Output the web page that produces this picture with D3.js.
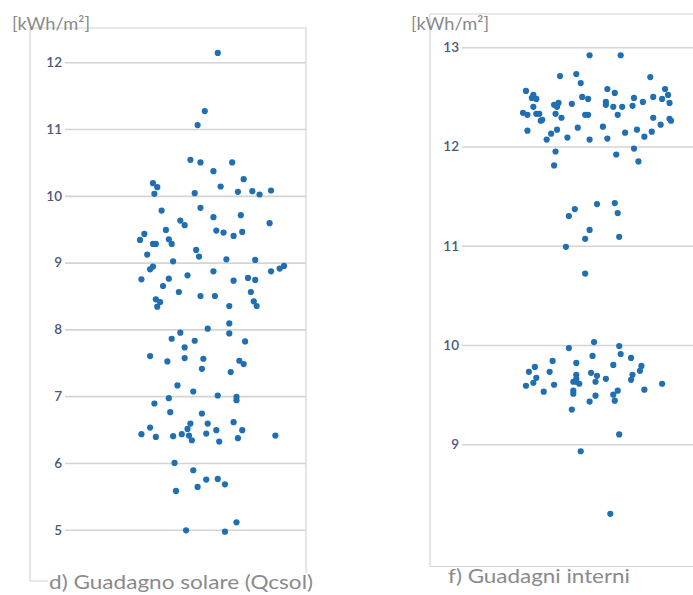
<!DOCTYPE html>
<html><head><meta charset="utf-8">
<script src="https://cdn.jsdelivr.net/npm/d3@7"></script>
<style>
html,body{margin:0;padding:0;background:#fff;}
svg{display:block;}
</style></head>
<body>
<svg id="chart" width="693" height="595"></svg>
<script>
// ---- Data ----
const unitLabel = "[kWh/m\u00B2]";
const solarTitle = "d) Guadagno solare (Qcsol)";
const internalTitle = "f) Guadagni interni";
const solarTicks = [5, 6, 7, 8, 9, 10, 11, 12];
const internalTicks = [9, 10, 11, 12, 13];

const solarValues = [12.14,11.27,11.06,10.54,10.50,10.50,10.37,10.25,10.19,10.13,10.14,10.03,10.04,10.06,10.07,10.02,10.08,
 9.78,9.82,9.63,9.56,9.68,9.71,9.59,9.49,9.48,9.45,9.40,9.46,9.34,9.43,9.35,9.28,9.28,9.28,9.19,9.09,9.12,9.02,9.05,9.04,
 8.94,8.90,8.95,8.91,8.87,8.87,8.75,8.76,8.81,8.73,8.77,8.74,8.65,8.56,8.56,8.45,8.50,8.50,8.42,8.41,8.34,8.35,8.35,
 8.09,8.01,7.95,7.94,7.86,7.83,7.82,7.73,7.60,7.52,7.57,7.56,7.41,7.53,7.48,7.36,7.16,7.07,6.97,7.01,6.99,6.94,6.89,
 6.76,6.74,6.59,6.59,6.61,6.53,6.51,6.49,6.49,6.43,6.39,6.40,6.43,6.41,6.44,6.34,6.32,6.37,6.41,
 6.00,5.89,5.75,5.76,5.68,5.64,5.58,5.11,4.99,4.97];
const solarJitter = [54,45,40,35,42,64,51,72,9,12,56,10,38,68,78,83,91,
 15,42,28,31,51,70,90,18,53,58,65,71,0,3,20,22,9,11,39,41,5,23,60,80,
 9,7,100,97,91,51,1,20,33,65,75,80,16,27,77,11,42,52,79,14,12,62,81,
 62,47,28,62,22,38,73,31,7,19,31,44,43,69,72,63,26,37,20,54,67,67,10,
 21,43,35,47,65,7,33,53,71,1,11,23,29,34,46,36,55,68,94,
 24,37,46,54,59,40,25,67,32,59];

const internalValues = [12.92,12.92,12.73,12.71,12.64,12.70,12.56,12.52,12.49,12.48,12.50,12.48,12.58,12.54,12.49,12.50,12.58,12.52,12.48,
 12.43,12.44,12.42,12.40,12.45,12.42,12.40,12.40,12.41,12.45,12.44,12.40,12.34,12.32,12.33,12.33,12.33,12.32,12.32,12.32,
 12.26,12.27,12.29,12.29,12.28,12.26,12.22,12.20,12.19,12.17,12.16,12.17,12.15,12.14,12.13,12.10,12.09,12.07,12.07,12.08,
 11.98,11.95,11.92,11.85,11.81,11.42,11.43,11.37,11.30,11.33,11.16,11.07,11.09,10.99,10.72,
 10.03,9.99,9.97,9.89,9.91,9.87,9.84,9.82,9.80,9.79,9.78,9.74,9.73,9.73,9.72,9.70,9.69,9.70,9.67,9.66,9.66,9.65,
 9.62,9.63,9.63,9.63,9.59,9.60,9.61,9.61,9.53,9.54,9.51,9.54,9.55,9.49,9.50,9.44,9.43,9.35,9.10,8.93,8.30];
const internalJitter = [45,66,36,25,39,86,2,7,6,9,40,44,57,62,75,88,96,98,94,
 33,24,21,23,56,56,61,67,74,81,99,7,0,3,9,11,22,42,44,64,
 12,13,26,88,99,100,93,54,37,23,3,77,87,69,19,82,30,16,45,57,
 75,22,63,78,21,50,62,35,31,64,45,42,65,29,42,
 48,65,31,47,66,73,20,36,61,80,8,79,4,18,46,36,50,74,9,36,56,73,
 7,34,36,49,2,21,38,94,14,34,34,64,82,49,61,62,45,33,65,39,59];

// ---- Drawing ----
const svg = d3.select("#chart");
const FONT = "Lato, 'Open Sans', sans-serif";
const DOT = "#1f6fb2";
const GRID = "#d4d4d4";

function panel(cfg) {
  const g = svg.append("g");
  const y = d3.scaleLinear().domain(cfg.yDomain).range(cfg.yRange);
  const x = d3.scaleLinear().domain([0, 100]).range(cfg.xRange);

  // frame
  g.append("path")
    .attr("d", `M${cfg.frame.left},${cfg.frame.bottom}V${cfg.frame.top}H${cfg.frame.right}` +
      (cfg.frame.closeRight ? `V${cfg.frame.bottom}` : "") + `M${cfg.frame.left},${cfg.frame.bottom}H${cfg.frame.right}`)
    .attr("fill", "none").attr("stroke", GRID).attr("stroke-width", 1.2);

  // gridlines + labels via axis
  const axis = d3.axisLeft(y).tickValues(cfg.ticks).tickFormat(d3.format("d"))
    .tickSize(-(cfg.gridEnd - cfg.gridStart)).tickPadding(3);
  const ag = g.append("g").attr("transform", `translate(${cfg.gridStart},0)`).call(axis);
  ag.select(".domain").remove();
  ag.selectAll(".tick line").attr("stroke", GRID).attr("stroke-width", 1.6);
  ag.selectAll(".tick text").attr("fill", "#4a5878").attr("font-family", FONT)
    .attr("font-size", 13.5).attr("font-weight", 600);

  // dots
  const data = cfg.values.map((v, i) => ({v, j: cfg.jitter[i]}));
  g.append("g").selectAll("circle").data(data).join("circle")
    .attr("cx", d => x(d.j)).attr("cy", d => y(d.v)).attr("r", 3.1)
    .attr("fill", DOT);

  // unit label
  g.append("text").attr("x", cfg.unitX).attr("y", 30)
    .attr("font-family", FONT).attr("font-size", 18).attr("fill", "#8a8a8a")
    .attr("textLength", 78).attr("lengthAdjust", "spacingAndGlyphs")
    .text(unitLabel);

  // title
  const t = g.append("text").attr("x", cfg.titleX).attr("y", cfg.titleY)
    .attr("font-family", FONT).attr("font-size", 20).attr("fill", "#8a8a8a")
    .attr("textLength", cfg.titleW).attr("lengthAdjust", "spacingAndGlyphs")
    .text(cfg.title);
  if (cfg.titleBg) {
    const bb = t.node().getBBox();
    g.append("rect").attr("x", bb.x - 1).attr("y", bb.y + 4)
      .attr("width", bb.width + 2).attr("height", bb.height - 6).attr("fill", "#fff");
    t.raise();
  }
}

panel({
  yDomain: [5, 12], yRange: [529.7, 62.3], xRange: [140, 284],
  ticks: solarTicks, values: solarValues, jitter: solarJitter,
  gridStart: 65, gridEnd: 306,
  frame: {left: 30, top: 28, right: 306, bottom: 581, closeRight: true},
  unitX: 12, title: solarTitle, titleX: 49, titleY: 589, titleW: 264, titleBg: true
});
panel({
  yDomain: [9, 13], yRange: [444.3, 47.3], xRange: [523, 671],
  ticks: internalTicks, values: internalValues, jitter: internalJitter,
  gridStart: 462, gridEnd: 693,
  frame: {left: 430, top: 14, right: 693, bottom: 566.5, closeRight: false},
  unitX: 411, title: internalTitle, titleX: 448, titleY: 583, titleW: 182, titleBg: false
});
</script>
</body></html>
